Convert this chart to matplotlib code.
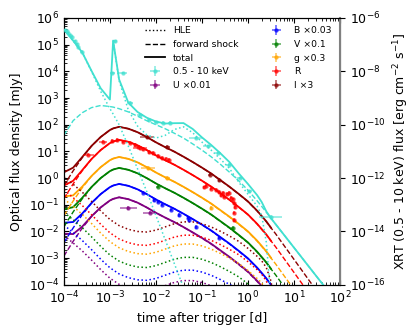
import numpy as np
import matplotlib
matplotlib.use("Agg")
import matplotlib.pyplot as plt
from matplotlib.lines import Line2D
from matplotlib.ticker import LogLocator, NullLocator

nan = np.nan

# model time grid, log10(t / d)
log_t = [-4.0, -3.8, -3.6, -3.4, -3.2, -3.0, -2.93, -2.8, -2.6, -2.4, -2.2, -2.0,
         -1.8, -1.6, -1.4, -1.2, -1.0, -0.8, -0.6, -0.4, -0.2, 0.0, 0.2, 0.3,
         0.4, 0.5, 0.6, 0.8, 1.0, 1.2, 1.4, 1.6, 1.8, 2.0]

# optical forward shock, dex relative to its peak
fs_opt_shape = [-2.2, -1.65, -1.15, -0.72, -0.38, -0.12, -0.06, 0.0, -0.07, -0.2, -0.38, -0.58,
                -0.76, -0.93, -1.12, -1.32, -1.53, -1.75, -2.0, -2.25, -2.52, -2.8, -3.15, -3.35,
                -3.55, -3.78, -4.0, -4.48, -4.96, -5.44, -5.92, -6.4, -6.88, -7.36]
# optical high latitude emission, dex relative to its start
hle_opt_shape = [0.0, -0.28, -0.58, -0.92, -1.28, -1.6, -1.68, -1.83, -1.97, -2.05, -2.07, -2.0,
                 -1.88, -1.76, -1.69, -1.69, -1.76, -1.88, -2.04, -2.22, -2.42, -2.68, -2.98, -3.15,
                 -3.4, -3.9, -4.9, nan, nan, nan, nan, nan, nan, nan]

bands = ["U", "B", "V", "g", "R", "I"]
band_labels = ["U \u00d70.01", "B \u00d70.03", "V \u00d70.1", "g \u00d70.3", "R", "I \u00d73"]
band_colors = ["purple", "blue", "green", "orange", "red", "darkred"]
fs_peak = [-0.72, -0.22, 0.38, 0.79, 1.43, 1.92]      # log10 mJy
hle_start = [-2.15, -1.76, -1.28, -0.78, -0.45, 0.05]  # log10 mJy

# X-ray model, log10 erg cm^-2 s^-1
fs_x = [-10.4, -9.85, -9.55, -9.36, -9.28, -9.32, -9.34, -9.4, -9.52, -9.68, -9.85, -10.0,
        -10.15, -10.32, -10.5, -10.72, -10.95, -11.2, -11.48, -11.78, -12.1, -12.45, -12.85, -13.06,
        -13.28, -13.5, -13.72, -14.16, -14.6, -15.04, -15.48, -15.92, -16.36, -16.8]
hle_x_prompt = [-6.42, -6.85, -7.3, -8.0, -8.75, -9.4, -9.6, -10.0, -10.8, -11.65, -12.5, -13.4,
                -14.3, -15.2, -16.1, nan, nan, nan, nan, nan, nan, nan, nan, nan,
                nan, nan, nan, nan, nan, nan, nan, nan, nan, nan]
hle_x_flare = [nan, nan, nan, nan, nan, nan, -6.85, -8.35, -9.45, -10.05, -10.38, -10.5,
               -10.4, -10.18, -10.08, -10.3, -10.65, -10.95, -11.28, -11.64, -12.15, -12.6, -13.05, -13.4,
               -14.4, -16.5, nan, nan, nan, nan, nan, nan, nan, nan]

# XRT data: log10 t, log10 flux, half width in dex
xrt_t = [-3.98, -3.94, -3.91, -3.86, -3.82, -3.76, -3.72, -3.69, -3.61, -2.95, -2.89, -2.72,
         -2.56, -2.34, -2.15, -2.0, -1.85, -1.7, -1.12, -0.87, -0.65, -0.42, -0.18, 0.03, 0.5]
xrt_f = [-6.45, -6.5, -6.56, -6.64, -6.7, -6.88, -6.98, -7.08, -7.26, -8.06, -6.88, -8.06,
         -9.18, -9.63, -9.82, -9.9, -9.93, -9.92, -10.5, -10.8, -11.06, -11.5, -12.0, -12.5, -13.45]
xrt_dt = [0.02, 0.02, 0.02, 0.02, 0.02, 0.02, 0.02, 0.02, 0.03, 0.05, 0.04, 0.09,
          0.07, 0.07, 0.04, 0.04, 0.04, 0.04, 0.15, 0.1, 0.06, 0.06, 0.06, 0.05, 0.25]

# optical data per band: log10 t, log10 mJy (scaled), half width in dex
opt_t = {
    "U": [-2.6, -2.12],
    "B": [-2.27, -2.05, -1.96, -1.86, -1.68, -1.5, -1.31, -1.29, -1.13, -0.63],
    "V": [-1.96, -0.33],
    "g": [-2.18, -1.75, -0.8],
    "R": [-3.47, -3.15, -2.95, -2.84, -2.71, -2.56, -2.45, -2.38, -2.34, -2.27, -2.16, -2.07,
          -1.96, -1.86, -1.79, -1.72, -0.96, -0.91, -0.8, -0.7, -0.63, -0.59, -0.55, -0.52,
          -0.45, -0.4, -0.37, -0.33, -0.3, -0.28, -0.3, -0.3],
    "I": [-2.2, -1.75, -0.83, -0.63],
}
opt_f = {
    "U": [-1.12, -1.3],
    "B": [-0.55, -0.82, -0.89, -1.0, -1.19, -1.38, -1.49, -1.57, -1.83, -2.24],
    "V": [-0.33, -1.87],
    "g": [0.38, 0.0, -1.12],
    "R": [0.87, 1.36, 1.39, 1.43, 1.36, 1.32, 1.24, 1.17, 1.13, 1.09, 0.98, 0.94,
          0.83, 0.76, 0.72, 0.68, -0.35, -0.29, -0.4, -0.44, -0.52, -0.63, -0.55, -0.7,
          -0.6, -0.55, -0.74, -0.8, -0.93, -1.08, -1.3, -1.57],
    "I": [1.54, 1.18, 0.12, -0.07],
}
opt_dt = {
    "U": [0.18, 0.15],
    "B": [0.02] * 10,
    "V": [0.03, 0.03],
    "g": [0.15, 0.05, 0.03],
    "R": [0.12, 0.08] + [0.02] * 6 + [0.15] + [0.02] * 23,
    "I": [0.15, 0.06, 0.03, 0.03],
}

t = 10.0 ** np.array(log_t)


def errbar(a, lt, lf, dt, color, dy=0.06):
    lt, lf, dt = np.array(lt), np.array(lf), np.array(dt)
    x, y = 10.0 ** lt, 10.0 ** lf
    xe = [x - 10.0 ** (lt - dt), 10.0 ** (lt + dt) - x]
    ye = [y - 10.0 ** (lf - dy), 10.0 ** (lf + dy) - y]
    return a.errorbar(x, y, xerr=xe, yerr=ye, fmt="o", ms=2.2, color=color,
                      alpha=0.6, elinewidth=1.2, capsize=0, zorder=3)


fig = plt.figure(figsize=(4.15, 3.32), dpi=100)
ax = fig.add_axes([0.154, 0.142, 0.665, 0.804])
ax.set_xscale("log")
ax.set_yscale("log")

late = np.array(log_t) <= 0.5
handles = {}
for b, lab, c, fp, hs in zip(bands, band_labels, band_colors, fs_peak, hle_start):
    fs = 10.0 ** (fp + np.array(fs_opt_shape))
    hle = 10.0 ** (hs + np.array(hle_opt_shape))
    tot = fs + np.nan_to_num(hle)
    ax.plot(t, fs, "--", color=c, lw=1.0)
    ax.plot(t, hle, ":", color=c, lw=1.1)
    ax.plot(t[late], tot[late], "-", color=c, lw=1.3)
    handles[b] = errbar(ax, opt_t[b], opt_f[b], opt_dt[b], c)

ax.set_xlim(1e-4, 1e2)
ax.set_ylim(1e-4, 1e6)
ax.set_xticks([10.0 ** k for k in range(-4, 3)])
ax.set_yticks([10.0 ** k for k in range(-4, 7)])
ax.xaxis.set_minor_locator(LogLocator(subs=np.arange(2, 10), numticks=100))
ax.yaxis.set_minor_locator(LogLocator(subs=np.arange(2, 10), numticks=100))
ax.tick_params(which="both", direction="in", top=True, labelsize=9)
ax.set_xlabel("time after trigger [d]", fontsize=9)
ax.set_ylabel("Optical flux density [mJy]", fontsize=9)

ax2 = ax.twinx()
ax2.set_yscale("log")
cx = "turquoise"
fsx = 10.0 ** np.array(fs_x)
hp = 10.0 ** np.array(hle_x_prompt)
hf = 10.0 ** np.array(hle_x_flare)
totx = fsx + np.nan_to_num(hp) + np.nan_to_num(hf)
ax2.plot(t, fsx, "--", color=cx, lw=1.0)
ax2.plot(t, hp, ":", color=cx, lw=1.1)
ax2.plot(t, hf, ":", color=cx, lw=1.1)
ax2.plot(t, totx, "-", color=cx, lw=1.3)
hx = errbar(ax2, xrt_t, xrt_f, xrt_dt, cx, dy=0.05)
ax2.set_ylim(1e-16, 1e-6)
ax2.set_yticks([10.0 ** k for k in range(-16, -5, 2)])
ax2.yaxis.set_minor_locator(NullLocator())
ax2.tick_params(labelsize=9, colors="black")
ax2.spines["right"].set_color("gray")
ax2.spines["right"].set_linewidth(1.5)
ax2.set_ylabel("XRT (0.5 - 10 keV) flux [erg cm$^{-2}$ s$^{-1}$]", fontsize=9)

leg_h = [Line2D([], [], color="k", ls=":", lw=1.0),
         Line2D([], [], color="k", ls="--", lw=1.0),
         Line2D([], [], color="k", ls="-", lw=1.3),
         hx, handles["U"], handles["B"], handles["V"], handles["g"], handles["R"], handles["I"]]
leg_l = ["HLE", "forward shock", "total", "0.5 - 10 keV", band_labels[0],
         band_labels[1], band_labels[2], band_labels[3], band_labels[4], band_labels[5]]
ax2.legend(leg_h, leg_l, ncol=2, loc="upper right", frameon=False, fontsize=6.7,
           handlelength=2.2, columnspacing=3.0, labelspacing=0.5, borderaxespad=0.5)

fig.savefig("out.png", dpi=100)
